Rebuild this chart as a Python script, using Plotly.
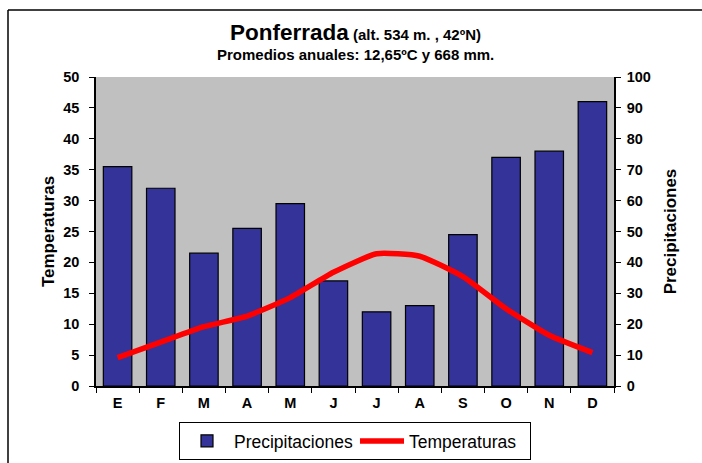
import plotly.graph_objects as go

months = ["E", "F", "M", "A", "M ", "J", "J ", "A ", "S", "O", "N", "D"]
month_labels = ["E", "F", "M", "A", "M", "J", "J", "A", "S", "O", "N", "D"]
precip = [71, 64, 43, 51, 59, 34, 24, 26, 49, 74, 76, 92]
temp = [4.6, 7.1, 9.6, 11.3, 14.3, 18.4, 21.4, 21.0, 17.7, 12.5, 8.2, 5.4]

FONT = "Liberation Sans"
L, R, T, B = 96, 88, 77, 77
H = 463 - T - B
W = 702 - L - R

def py(pix):
    return (463 - B - pix) / H

def px(pix):
    return (pix - L) / W

fig = go.Figure()
fig.add_trace(go.Bar(
    x=months, y=precip, name="Precipitaciones", yaxis="y",
    marker=dict(color="#333399", line=dict(color="black", width=1.2)),
))
fig.add_trace(go.Scatter(
    x=months, y=temp, name="Temperaturas", yaxis="y2", mode="lines",
    line=dict(color="#FF0000", width=5.5, shape="spline", smoothing=0.5),
))

fig.update_layout(
    width=702, height=463,
    margin=dict(l=L, r=R, t=T, b=B, autoexpand=False),
    paper_bgcolor="white", plot_bgcolor="#C0C0C0",
    font=dict(family=FONT, color="black"),
    bargap=0.34,
    showlegend=True,
    legend=dict(orientation="h", x=0.5, xanchor="center", y=py(422), yanchor="top",
                bordercolor="black", borderwidth=1, bgcolor="white",
                entrywidth=116, entrywidthmode="pixels", itemwidth=44,
                font=dict(size=17.5, family=FONT), tracegroupgap=0),
    xaxis=dict(tickmode="array", tickvals=months, ticktext=month_labels,
               tickfont=dict(size=14.5, family=FONT, weight="bold"),
               showline=True, linecolor="black", linewidth=1.5,
               ticks="outside", ticklen=5, tickcolor="black", tickson="boundaries",
               ticklabelstandoff=3,
               showgrid=False, fixedrange=True, automargin=False),
    yaxis=dict(side="right", range=[0, 100], dtick=10, showgrid=False, zeroline=False,
               showline=True, linecolor="black", linewidth=1.5,
               ticks="outside", ticklen=5, tickcolor="black", automargin=False,
               ticklabelstandoff=3,
               tickfont=dict(size=14.5, family=FONT, weight="bold"),
               title=dict(text="Precipitaciones", font=dict(size=17, family=FONT, weight="bold"), standoff=14)),
    yaxis2=dict(side="left", overlaying="y", range=[0, 50], dtick=5, showgrid=False, zeroline=False,
                showline=True, linecolor="black", linewidth=1.5,
                ticks="outside", ticklen=5, tickcolor="black", automargin=False,
                ticklabelstandoff=7,
                tickfont=dict(size=14.5, family=FONT, weight="bold"),
                title=dict(text="Temperaturas", font=dict(size=17, family=FONT, weight="bold"), standoff=4)),
    annotations=[
        dict(text="<b>Ponferrada</b><b><span style='font-size:15px'> (alt. 534 m. , 42ºN)</span></b>",
             xref="paper", yref="paper", x=0.5, y=py(33), xanchor="center", yanchor="middle",
             showarrow=False, font=dict(size=22.5, family=FONT)),
        dict(text="<b>Promedios anuales: 12,65ºC y 668 mm.</b>",
             xref="paper", yref="paper", x=0.5, y=py(54), xanchor="center", yanchor="middle",
             showarrow=False, font=dict(size=15, family=FONT)),
    ],
    shapes=[
        dict(type="line", xref="paper", yref="paper", x0=px(8), x1=1.3,
             y0=py(10), y1=py(10), line=dict(color="black", width=1.5)),
        dict(type="line", xref="paper", yref="paper", x0=px(8), x1=px(8),
             y0=py(10), y1=-0.4, line=dict(color="black", width=1.5)),
    ],
)

fig.write_html("out.html", config={"displayModeBar": False},
               post_script="document.body.style.margin='0';document.body.style.overflow='hidden';")
